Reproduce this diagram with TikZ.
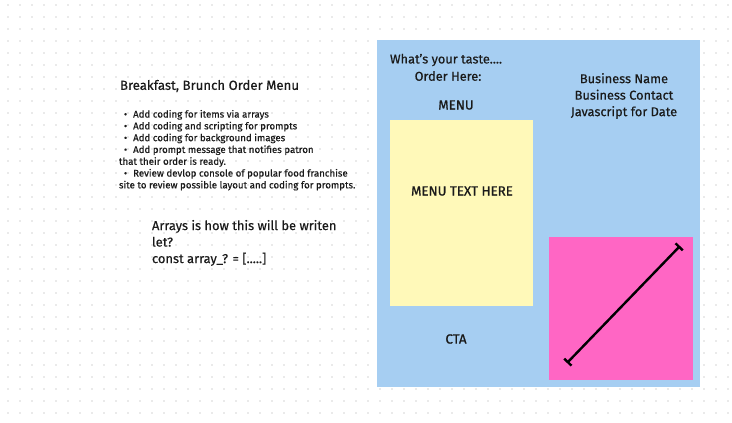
\documentclass[tikz,border=0pt]{standalone}
\usepackage{fontspec}
\setmainfont{Fira Sans}[FakeBold=0.45]
\newfontfamily\headfont{Fira Sans}[FakeBold=0.9]
\usetikzlibrary{arrows.meta,positioning}
\definecolor{panelblue}{HTML}{A6CEF2}
\definecolor{menuyellow}{HTML}{FFF9B9}
\definecolor{heropink}{HTML}{FF66C4}
\definecolor{griddot}{HTML}{D6D6D6}
\definecolor{inktext}{HTML}{1A1A1A}
\begin{document}
\begin{tikzpicture}[x=1pt,y=-1pt,inner sep=0pt,outer sep=0pt,
sysblock/.style={draw=none,rectangle,anchor=north west},
paneltext/.style={font=\fontsize{12.8}{16.5}\selectfont,align=center,text=inktext},
capstext/.style={font=\headfont\fontsize{13.3}{16.5}\selectfont,text=inktext},
notetext/.style={font=\fontsize{12.9}{16.5}\selectfont,align=left,text=inktext,anchor=north west}]
\useasboundingbox (0,0) rectangle (732,423);
\fill[white] (0,0) rectangle (732,423);
% dot grid
\foreach \i in {0,...,60}
  \foreach \j in {0,...,34}
    \fill[griddot] (8+12*\i,5+12*\j) circle (0.9pt);
% page mock-up
\node[sysblock,fill=panelblue,minimum width=323pt,minimum height=347pt] (panel) at (377,40) {};
\node[sysblock,fill=menuyellow,minimum width=143pt,minimum height=186pt] (menubox) at (390,120) {};
\node[sysblock,fill=heropink,minimum width=144pt,minimum height=143pt] (hero) at (549,237) {};
\node[paneltext,anchor=west] (taste) at (390,60) {What’s your taste....};
\node[paneltext] (order) at (448,76) {Order Here:};
\node[capstext] (menu) at (456,105) {MENU};
\node[capstext] (menutext) at (462,191) {MENU TEXT HERE};
\node[capstext] (cta) at (456,339) {CTA};
\node[paneltext] (business) at (624,96) {Business Name\\Business Contact\\Javascript for Date};
\coordinate (lineA) at (567,363);
\coordinate (lineB) at (680,246);
\draw[line width=2.4pt,{Bar[width=10pt,line width=2.4pt]}-{Bar[width=10pt,line width=2.4pt]}] (lineA) -- (lineB);
% notes
\node[anchor=west,font=\fontsize{13.2}{15}\selectfont,text=inktext] (title) at (120,86) {Breakfast, Brunch Order Menu};
\node[notetext,font=\fontsize{9.7}{11.8}\selectfont] (todo) at (119,110) {%
\hspace*{5pt}\textbullet\hspace{6pt}Add coding for items via arrays\\
\hspace*{5pt}\textbullet\hspace{6pt}Add coding and scripting for prompts\\
\hspace*{5pt}\textbullet\hspace{6pt}Add coding for background images\\
\hspace*{5pt}\textbullet\hspace{6pt}Add prompt message that notifies patron\\
that their order is ready.\\
\hspace*{5pt}\textbullet\hspace{6pt}Review devlop console of popular food franchise\\
site to review possible layout and coding for prompts.};
\node[notetext] (arrays) at (152,220) {Arrays is how this will be writen\\let?\\const array\_? = [.....]};
\end{tikzpicture}
\end{document}
